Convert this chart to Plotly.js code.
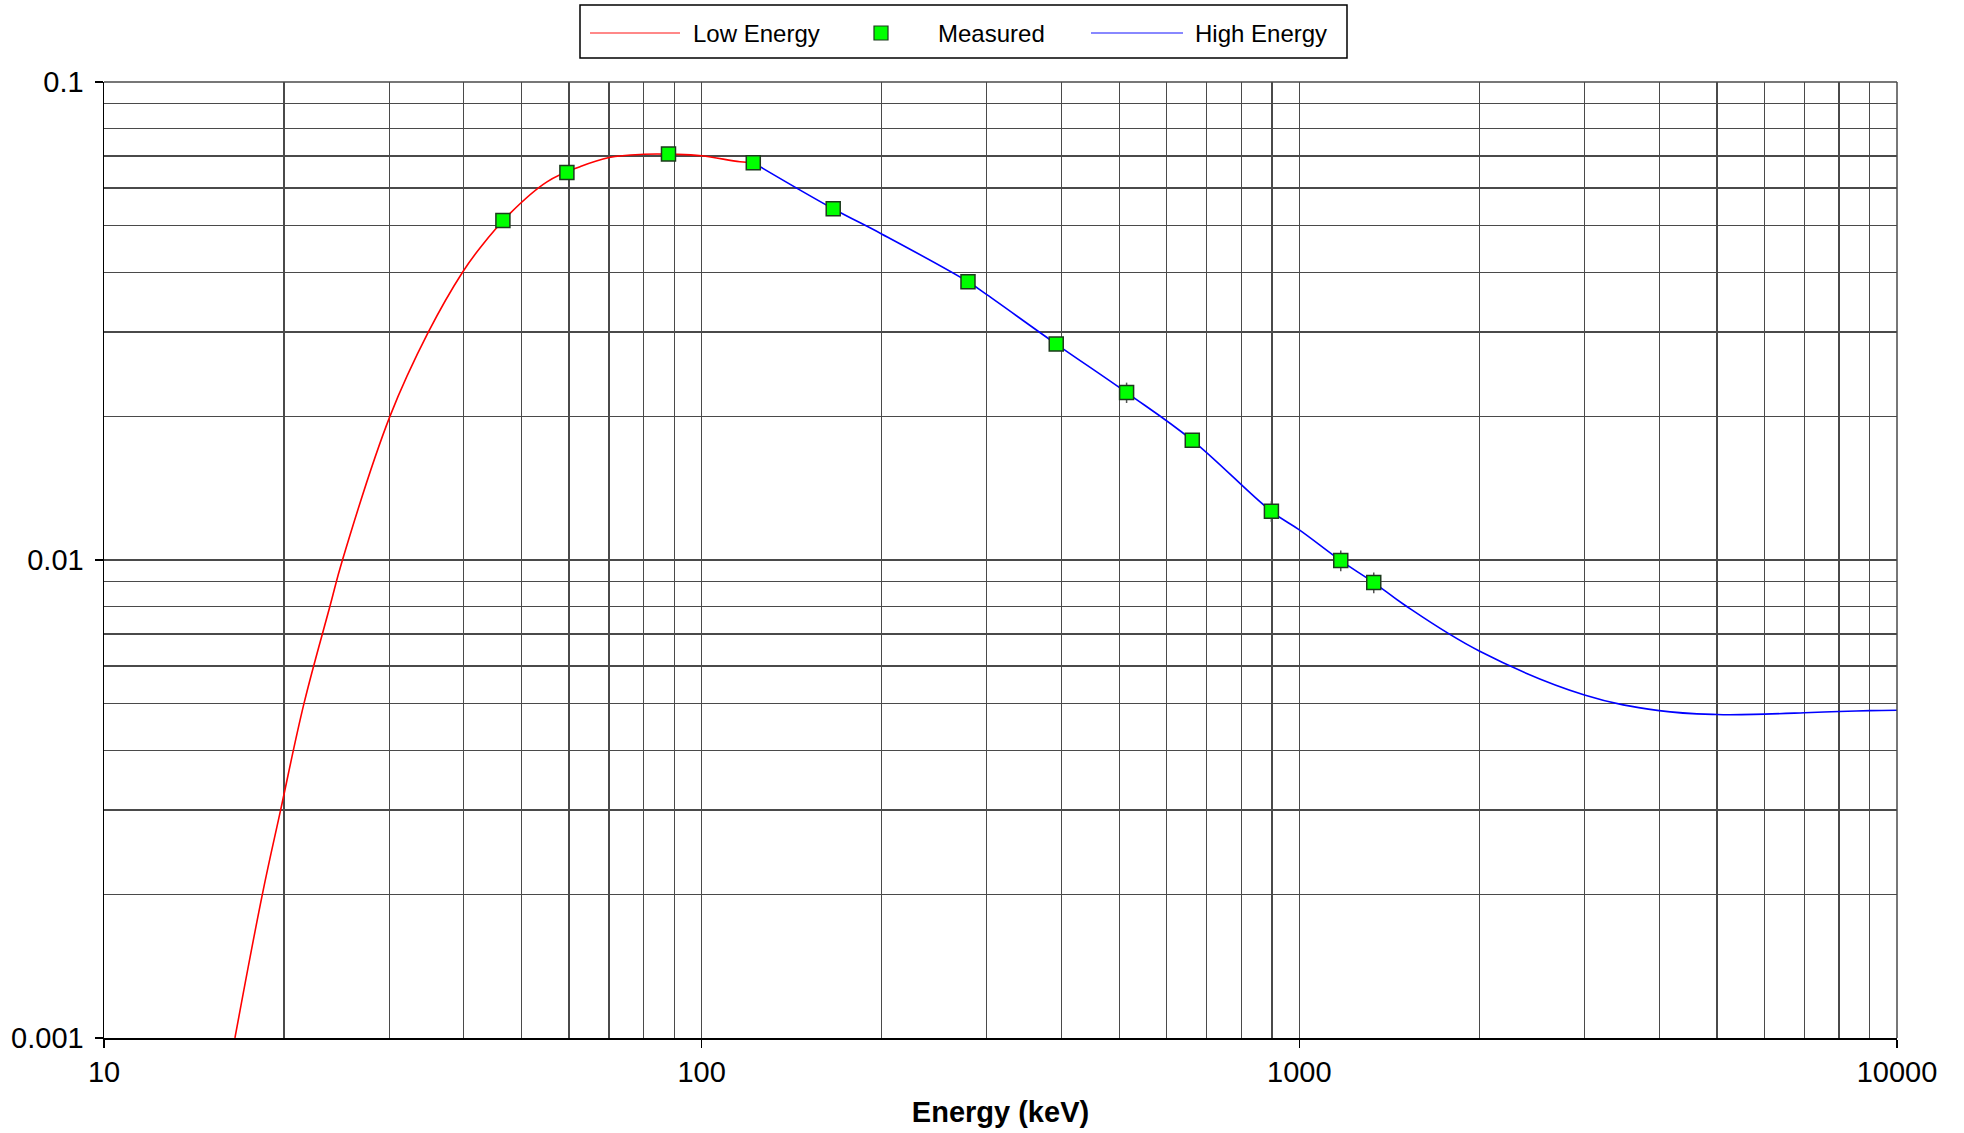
<!DOCTYPE html>
<html>
<head>
<meta charset="utf-8">
<script src="https://cdn.plot.ly/plotly-3.0.1.min.js"></script>
<style>html,body{margin:0;padding:0;background:#fff;}#chart{width:1964px;height:1133px;}</style>
</head>
<body>
<div id="chart"></div>
<script>
// ---- Data ----
const lowEnergyX = [16.56, 18.41, 19.75, 21.6, 23.88, 25.06, 30.1, 34.9, 39.8, 42.6, 47.8, 55.1, 62.6, 70, 80, 90, 100, 115.9, 122];
const lowEnergyY = [0.001, 0.002, 0.003, 0.005, 0.008, 0.010, 0.020, 0.030, 0.040, 0.045, 0.0531, 0.0618, 0.0665, 0.0695, 0.0706, 0.0706, 0.0701, 0.0681, 0.0678];

const highEnergyX = [122, 166, 200, 279, 300, 392, 514, 662, 898, 1000, 1173, 1332, 1500, 2000, 3000, 4000, 5000, 6000, 7000, 8000, 9000, 10000];
const highEnergyY = [0.0678, 0.0543, 0.0481, 0.0382, 0.0359, 0.0283, 0.0224, 0.0178, 0.01264, 0.01156, 0.00997, 0.00897, 0.00805, 0.00645, 0.00522, 0.00484, 0.00475, 0.00476, 0.00479, 0.00482, 0.00484, 0.00485];

const measuredX = [46.5, 59.5, 88, 122, 166, 279, 392, 514, 662, 898, 1173, 1332];
const measuredY = [0.0513, 0.0647, 0.0707, 0.0678, 0.0543, 0.0382, 0.0283, 0.0224, 0.0178, 0.01264, 0.00997, 0.00897];
const measuredErr = [0, 0, 0, 0, 0, 0, 0, 0.0011, 0, 0.00063, 0.0005, 0.00045];

const xTickVals = [10, 100, 1000, 10000];
const xTickText = ['10', '100', '1000', '10000'];
const yTickVals = [0.001, 0.01, 0.1];
const yTickText = ['0.001', '0.01', '0.1'];

const seriesNames = ['Low Energy', 'Measured', 'High Energy'];
const xAxisTitle = 'Energy (keV)';

// ---- Layout helpers ----
const W = 1964, H = 1133;
const M = {l: 104, r: 67, t: 82, b: 95};
const pw = W - M.l - M.r, ph = H - M.t - M.b;
const px2x = p => (p - M.l) / pw;
const px2y = p => (H - M.b - p) / ph;

const FONT = 'Liberation Sans, Arial, sans-serif';
const GRID = '#4a4a4a';

const traces = [
  {
    x: lowEnergyX, y: lowEnergyY, name: seriesNames[0], type: 'scatter', mode: 'lines',
    line: {color: '#ff0000', width: 1.6, shape: 'spline', smoothing: 1.1}, showlegend: false
  },
  {
    x: highEnergyX, y: highEnergyY, name: seriesNames[2], type: 'scatter', mode: 'lines',
    line: {color: '#0000ff', width: 1.6, shape: 'spline', smoothing: 1.1}, showlegend: false
  },
  {
    x: measuredX, y: measuredY, name: seriesNames[1], type: 'scatter', mode: 'markers',
    marker: {symbol: 'square', size: 14, color: '#00ff00', line: {color: '#1d3a1d', width: 1.5}},
    error_y: {type: 'data', array: measuredErr, visible: true, color: '#555', thickness: 1.5, width: 0},
    showlegend: false
  }
];

// custom legend (box, samples, labels)
const legY = 33;
const shapes = [
  {type: 'rect', xref: 'paper', yref: 'paper', x0: px2x(580), x1: px2x(1347), y0: px2y(58), y1: px2y(5),
   line: {color: '#000', width: 1.5}, fillcolor: 'rgba(0,0,0,0)'},
  {type: 'line', xref: 'paper', yref: 'paper', x0: px2x(590), x1: px2x(680), y0: px2y(legY), y1: px2y(legY),
   line: {color: '#ff6060', width: 1.5}},
  {type: 'rect', xref: 'paper', yref: 'paper', x0: px2x(874), x1: px2x(888), y0: px2y(legY + 7), y1: px2y(legY - 7),
   line: {color: '#1d3a1d', width: 1.2}, fillcolor: '#00ff00'},
  {type: 'line', xref: 'paper', yref: 'paper', x0: px2x(1091), x1: px2x(1183), y0: px2y(legY), y1: px2y(legY),
   line: {color: '#6060ff', width: 1.5}},
  // top and right frame lines (grid-coloured)
  {type: 'line', xref: 'paper', yref: 'paper', x0: 0, x1: 1, y0: 1, y1: 1, line: {color: GRID, width: 1.5}},
  {type: 'line', xref: 'paper', yref: 'paper', x0: 1, x1: 1, y0: 0, y1: 1, line: {color: GRID, width: 1.5}}
];
const legendTextX = [691, 936, 1193];
const annotations = seriesNames.map((s, i) => ({
  text: s, xref: 'paper', yref: 'paper', x: px2x(legendTextX[i]), y: px2y(legY),
  xanchor: 'left', yanchor: 'middle', showarrow: false,
  font: {family: FONT, size: 24, color: '#000'}
}));

const layout = {
  width: W, height: H,
  margin: M,
  paper_bgcolor: '#fff', plot_bgcolor: '#fff',
  showlegend: false,
  font: {family: FONT, color: '#000'},
  xaxis: {
    type: 'log', range: [1, 4], autorange: false,
    tickvals: xTickVals, ticktext: xTickText,
    ticks: 'outside', ticklen: 8, tickwidth: 1.5, tickcolor: '#000',
    tickfont: {family: FONT, size: 29, color: '#000'},
    showline: true, linecolor: '#000', linewidth: 1.5,
    showgrid: true, gridcolor: GRID, gridwidth: 1.2,
    minor: {dtick: 'D1', showgrid: true, gridcolor: GRID, gridwidth: 1.2, ticks: ''},
    zeroline: false,
    title: {text: '<b>' + xAxisTitle + '</b>', font: {family: FONT, size: 29, color: '#000'}, standoff: 14}
  },
  yaxis: {
    type: 'log', range: [-3, -1], autorange: false,
    tickvals: yTickVals, ticktext: yTickText,
    ticks: 'outside', ticklen: 8, tickwidth: 1.5, tickcolor: '#000',
    tickfont: {family: FONT, size: 29, color: '#000'},
    ticklabelstandoff: 5,
    showline: true, linecolor: '#000', linewidth: 1.5,
    showgrid: true, gridcolor: GRID, gridwidth: 1.2,
    minor: {dtick: 'D1', showgrid: true, gridcolor: GRID, gridwidth: 1.2, ticks: ''},
    zeroline: false
  },
  shapes: shapes,
  annotations: annotations
};

Plotly.newPlot('chart', traces, layout, {staticPlot: true, displayModeBar: false});
</script>
</body>
</html>
